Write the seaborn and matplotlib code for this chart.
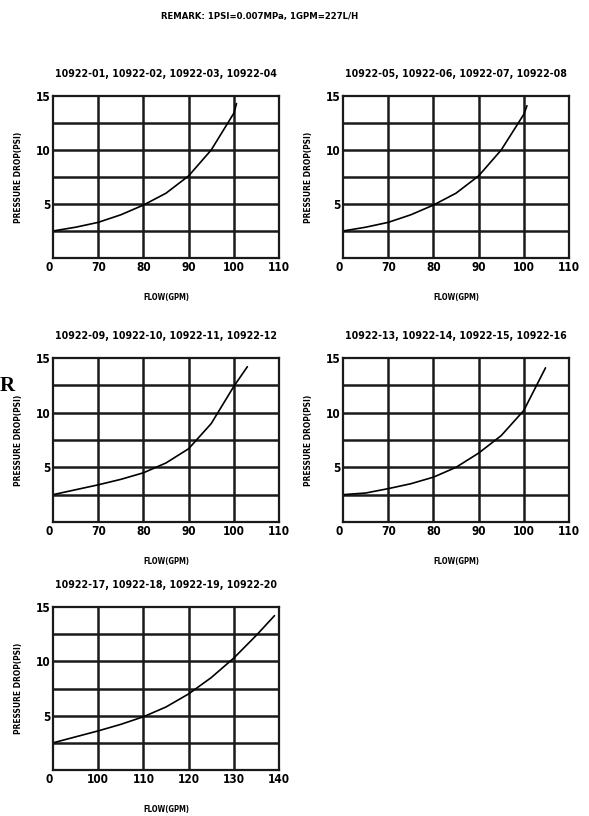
import matplotlib
matplotlib.use("Agg")
import matplotlib.pyplot as plt
import seaborn as sns
import pandas as pd
import numpy as np

sns.set_theme(style="white")
plt.rcParams['font.family'] = ['DejaVu Sans']
plt.rcParams['font.stretch'] = 'condensed'
plt.rcParams['text.color'] = 'black'
plt.rcParams['xtick.color'] = 'black'
plt.rcParams['ytick.color'] = 'black'
plt.rcParams['axes.labelcolor'] = 'black'

main_title = "REMARK: 1PSI=0.007MPa, 1GPM=227L/H"

titles = [
    "10922-01, 10922-02, 10922-03, 10922-04",
    "10922-05, 10922-06, 10922-07, 10922-08",
    "10922-09, 10922-10, 10922-11, 10922-12",
    "10922-13, 10922-14, 10922-15, 10922-16",
    "10922-17, 10922-18, 10922-19, 10922-20",
]

# x tick values and labels (first label printed as "0" at axis break)
xticks_a = [60, 70, 80, 90, 100, 110]
xlabels_a = ["0", "70", "80", "90", "100", "110"]
xticks_b = [90, 100, 110, 120, 130, 140]
xlabels_b = ["0", "100", "110", "120", "130", "140"]

# curves (flow GPM, pressure drop PSI)
flow1 = [60, 65, 70, 75, 80, 85, 90, 95, 100, 100.6]
drop1 = [2.5, 2.85, 3.3, 4.0, 4.9, 6.0, 7.6, 10.0, 13.4, 14.3]
flow2 = [60, 65, 70, 75, 80, 85, 90, 95, 100, 100.7]
drop2 = [2.5, 2.85, 3.3, 4.0, 4.9, 6.0, 7.6, 10.0, 13.3, 14.1]
flow3 = [60, 65, 70, 75, 80, 85, 90, 95, 100, 103]
drop3 = [2.5, 2.95, 3.4, 3.9, 4.5, 5.4, 6.7, 9.0, 12.4, 14.2]
flow4 = [60, 65, 70, 75, 80, 85, 90, 95, 100, 104.8]
drop4 = [2.5, 2.65, 3.05, 3.5, 4.1, 5.0, 6.3, 7.9, 10.2, 14.1]
flow5 = [90, 95, 100, 105, 110, 115, 120, 125, 130, 135, 139]
drop5 = [2.5, 3.05, 3.6, 4.2, 4.9, 5.8, 7.0, 8.5, 10.3, 12.4, 14.2]

ylabel = "PRESSURE DROP(PSI)"
xlabel = "FLOW(GPM)"

W, H = 589, 816
fig = plt.figure(figsize=(W / 100, H / 100), dpi=100)

def rect(l, r, t, b):
    return [l / W, 1 - b / H, (r - l) / W, (b - t) / H]

panels = [
    (rect(53, 279, 96, 258), flow1, drop1, titles[0], xticks_a, xlabels_a),
    (rect(343, 569, 96, 258), flow2, drop2, titles[1], xticks_a, xlabels_a),
    (rect(53, 279, 358, 522), flow3, drop3, titles[2], xticks_a, xlabels_a),
    (rect(343, 569, 358, 522), flow4, drop4, titles[3], xticks_a, xlabels_a),
    (rect(53, 279, 607, 770), flow5, drop5, titles[4], xticks_b, xlabels_b),
]

grid_c = "#1a1a1a"
for pos, fx, fy, ttl, xt, xl in panels:
    ax = fig.add_axes(pos)
    df = pd.DataFrame({"flow": fx, "drop": fy})
    sns.lineplot(data=df, x="flow", y="drop", ax=ax, color="black", lw=1.2)
    ax.set_xlim(xt[0], xt[-1])
    ax.set_ylim(0, 15)
    ax.set_xticks(xt)
    ax.set_xticklabels(xl)
    ax.set_yticks([5, 10, 15])
    ax.set_yticklabels(["5", "10", "15"])
    for xv in xt[1:-1]:
        ax.axvline(xv, color=grid_c, lw=1.8, zorder=0)
    for yv in [2.5, 5, 7.5, 10, 12.5]:
        ax.axhline(yv, color=grid_c, lw=1.8, zorder=0)
    for s in ax.spines.values():
        s.set_color(grid_c)
        s.set_linewidth(1.6)
    ax.tick_params(length=0, pad=2, labelsize=8.5)
    for lab in ax.get_xticklabels() + ax.get_yticklabels():
        lab.set_fontweight("bold")
    ax.get_xticklabels()[0].set_horizontalalignment("right")
    ax.set_title(ttl, fontsize=7.6, fontweight="bold", pad=14)
    ax.set_xlabel(xlabel, fontsize=5.5, fontweight="bold", labelpad=14)
    ax.set_ylabel(ylabel, fontsize=6, fontweight="bold", labelpad=9)

fig.text(260 / W, 1 - 16 / H, main_title, ha="center", va="center",
         fontsize=6.8, fontweight="bold")
fig.text(0 / W, 1 - 386 / H, "R", ha="left", va="center",
         fontsize=15, fontweight="bold", family=["Liberation Serif", "DejaVu Serif"])

fig.savefig("out.png", dpi=100)
